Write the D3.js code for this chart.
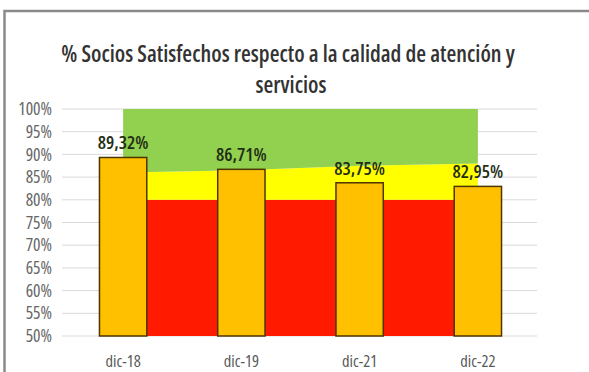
<!DOCTYPE html>
<html>
<head>
<meta charset="utf-8">
<script src="https://cdn.jsdelivr.net/npm/d3@7"></script>
<style>
  body { margin: 0; background: #fff; }
  svg { display: block; font-family: "Open Sans", sans-serif; font-stretch: 75%; }
</style>
</head>
<body>
<div id="chart"></div>
<script>
// datos
var categorias = ["dic-18", "dic-19", "dic-21", "dic-22"];
var satisfechos = [89.32, 86.71, 83.75, 82.95];
var etiquetas = ["89,32%", "86,71%", "83,75%", "82,95%"];
// bandas de fondo (semaforo)
var limiteRojo = [80, 80, 80, 80];
var limiteAmarillo = [86, 86.5, 87.5, 88];
var limiteVerde = [100, 100, 100, 100];
var ticksY = [50, 55, 60, 65, 70, 75, 80, 85, 90, 95, 100];

var width = 589, height = 372;
var margin = {top: 109, right: 52, bottom: 36, left: 64};

var svg = d3.select("#chart").append("svg")
    .attr("width", width)
    .attr("height", height);

// marco del grafico
svg.append("rect")
    .attr("x", 4.5).attr("y", 11)
    .attr("width", 620).attr("height", 400)
    .attr("fill", "#fff")
    .attr("stroke", "#8a8a8a")
    .attr("stroke-width", 2.5);

var x = d3.scaleBand()
    .domain(categorias)
    .range([margin.left, width - margin.right])
    .paddingInner(0.6)
    .paddingOuter(0.3);

var y = d3.scaleLinear()
    .domain([50, 100])
    .range([height - margin.bottom, margin.top]);

function centro(i) { return x(categorias[i]) + x.bandwidth() / 2; }

// lineas de division
svg.append("g")
    .selectAll("line")
    .data(ticksY)
    .enter().append("line")
    .attr("x1", margin.left - 2)
    .attr("x2", width - margin.right)
    .attr("y1", function (d) { return y(d); })
    .attr("y2", function (d) { return y(d); })
    .attr("stroke", "#d9d9d9")
    .attr("stroke-width", 1);

// areas de fondo
var bandas = [
    {bajo: categorias.map(function () { return 50; }), alto: limiteRojo, color: "#ff1a00"},
    {bajo: limiteRojo, alto: limiteAmarillo, color: "#ffff00"},
    {bajo: limiteAmarillo, alto: limiteVerde, color: "#92d050"}
];

var area = d3.area()
    .x(function (d) { return centro(d.i); })
    .y0(function (d) { return y(d.b); })
    .y1(function (d) { return y(d.a); });

svg.append("g")
    .selectAll("path")
    .data(bandas)
    .enter().append("path")
    .attr("fill", function (d) { return d.color; })
    .attr("d", function (d) {
        return area(categorias.map(function (c, i) {
            return {i: i, b: d.bajo[i], a: d.alto[i]};
        }));
    });

// barras
svg.append("g")
    .selectAll("rect")
    .data(satisfechos)
    .enter().append("rect")
    .attr("x", function (d, i) { return x(categorias[i]); })
    .attr("y", function (d) { return y(d); })
    .attr("width", x.bandwidth())
    .attr("height", function (d) { return y(50) - y(d); })
    .attr("fill", "#ffc000")
    .attr("stroke", "#4d3500")
    .attr("stroke-width", 1.5);

// etiquetas de datos
svg.append("g")
    .selectAll("text")
    .data(satisfechos)
    .enter().append("text")
    .attr("x", function (d, i) { return centro(i); })
    .attr("y", function (d) { return y(d) - 8; })
    .attr("text-anchor", "middle")
    .attr("fill", "#1f2e14")
    .style("font-size", "18.5px")
    .style("font-weight", "600")
    .text(function (d, i) { return etiquetas[i]; });

// eje Y
var ejeY = d3.axisLeft(y)
    .tickValues(ticksY)
    .tickSize(0)
    .tickPadding(12)
    .tickFormat(function (d) { return d + "%"; });

svg.append("g")
    .attr("transform", "translate(" + margin.left + ",0)")
    .call(ejeY)
    .attr("font-family", null)
    .attr("font-size", null)
    .call(function (g) { g.select(".domain").remove(); })
    .selectAll("text")
    .attr("fill", "#666")
    .style("font-size", "17.5px");

// eje X
var ejeX = d3.axisBottom(x).tickSize(0).tickPadding(19);

svg.append("g")
    .attr("transform", "translate(0," + y(50) + ")")
    .call(ejeX)
    .attr("font-family", null)
    .attr("font-size", null)
    .call(function (g) { g.select(".domain").remove(); })
    .selectAll("text")
    .attr("fill", "#595959")
    .style("font-size", "16.5px");

// titulo
var titulo = svg.append("text")
    .attr("text-anchor", "middle")
    .attr("fill", "#333")
    .style("font-size", "22.5px")
    .style("font-weight", "600");
titulo.append("tspan")
    .attr("x", 288).attr("y", 62)
    .text("% Socios Satisfechos respecto a la calidad de atención y");
titulo.append("tspan")
    .attr("x", 291).attr("y", 93)
    .text("servicios");
</script>
</body>
</html>
